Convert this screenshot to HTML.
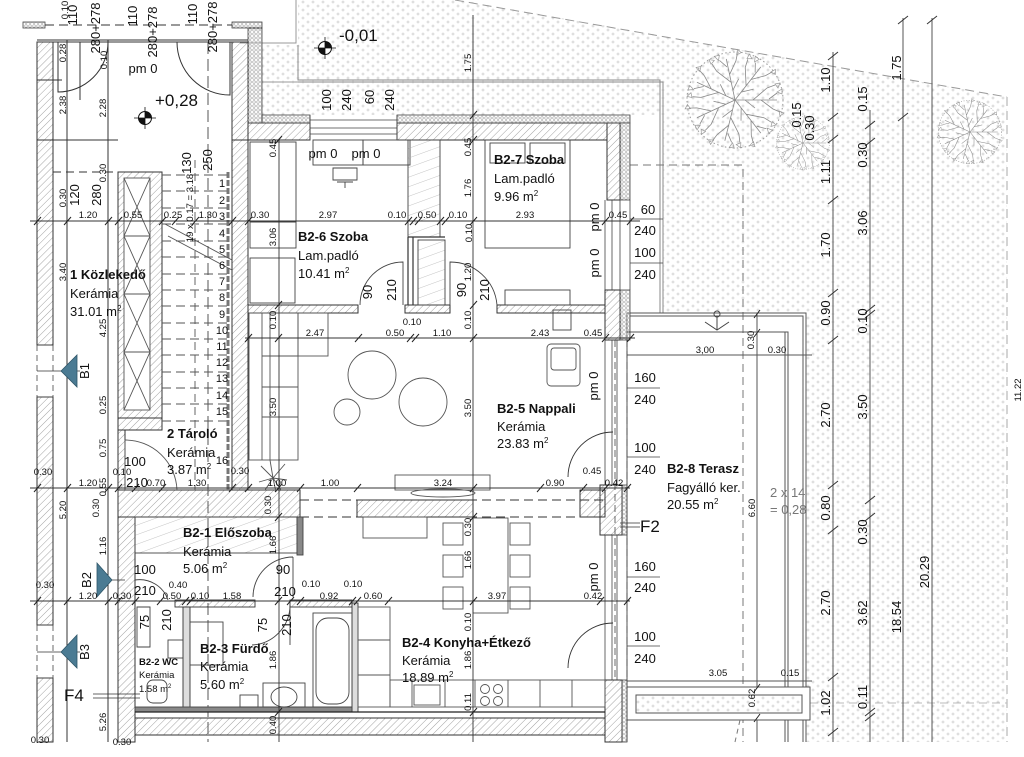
<!DOCTYPE html>
<html><head><meta charset="utf-8">
<style>
html,body{margin:0;padding:0;background:#fff;width:1024px;height:757px;overflow:hidden}
svg{display:block}
text{font-family:"Liberation Sans",Arial,sans-serif;fill:#111}
.d{font-size:9.5px}
.n{font-size:13px}
.b{font-size:13px;font-weight:bold}
.m{font-size:13px}
.st{font-size:11px;fill:#666}
.sm{font-size:9.5px}
.sb{font-size:9.5px;font-weight:bold}
.g{font-size:13px;fill:#777}
.big{font-size:17px}
</style></head>
<body>
<svg width="1024" height="757" viewBox="0 0 1024 757" xmlns="http://www.w3.org/2000/svg">
<defs>
<pattern id="h" width="5" height="5" patternUnits="userSpaceOnUse" patternTransform="rotate(45)"><line x1="0" y1="0" x2="0" y2="5" stroke="#8a8a8a" stroke-width="0.8"/></pattern>
<pattern id="h2" width="9" height="9" patternUnits="userSpaceOnUse" patternTransform="rotate(70)"><line x1="0" y1="0" x2="0" y2="9" stroke="#aaa" stroke-width="0.7"/></pattern>
<pattern id="dt" width="10" height="8" patternUnits="userSpaceOnUse"><path d="M1.5,2h3M3,0.5v3M6.5,6h3M8,4.5v3" stroke="#c9c9c9" stroke-width="0.7"/></pattern>
<pattern id="ins" width="4" height="4" patternUnits="userSpaceOnUse"><circle cx="2" cy="2" r="1.3" fill="none" stroke="#9a9a9a" stroke-width="0.6"/></pattern>
<g id="br"><path d="M0,0 L42,0 M18,0 L32,-12 M26,0 L38,9 M32,-12 l8,-3 M38,9 l7,3 M10,0 L20,8 M34,-1 l8,-6" fill="none" stroke="#888" stroke-width="0.8"/><path d="M40,-16 l5,-1 l-2,5z M44,11 l5,2 l-4,3z M42,-8 l5,-3 l0,5z" fill="none" stroke="#999" stroke-width="0.7"/></g>
<g id="tree"><circle r="48" fill="none" stroke="#999" stroke-dasharray="1.5 2.5"/><use href="#br"/><use href="#br" transform="rotate(52)"/><use href="#br" transform="rotate(104)"/><use href="#br" transform="rotate(155)"/><use href="#br" transform="rotate(205)"/><use href="#br" transform="rotate(258)"/><use href="#br" transform="rotate(308)"/></g>
<g id="lvl"><circle r="6.5" fill="#fff" stroke="#111" stroke-width="1"/><path d="M0,0 L0,-6.5 A6.5,6.5 0 0 1 6.5,0 Z M0,0 L0,6.5 A6.5,6.5 0 0 1 -6.5,0 Z" fill="#111"/><path d="M-11,0 H11 M0,-11 V11" stroke="#111" stroke-width="0.8"/></g>
</defs>
<rect width="1024" height="757" fill="#fff"/>

<!-- ground dotted -->
<path d="M262,45 L298,45 L298,0 L460,0 L1007,97 L1007,742 L806,742 L806,313 L663,313 L663,115 L262,115 Z" fill="url(#dt)"/>
<path d="M455,0 L1007,97" stroke="#999" stroke-width="1" stroke-dasharray="9 5" fill="none"/>
<line x1="1007" y1="97" x2="1007" y2="742" stroke="#aaa" stroke-dasharray="9 5"/>
<path d="M240,43 H296 V0" fill="none" stroke="#999"/>
<path d="M298,45 V80 H660 V313 M298,82 H663 V313" fill="none" stroke="#888"/>
<line x1="262" y1="82" x2="298" y2="82" stroke="#999"/>
<path d="M630,165 H743 V742" fill="none" stroke="#777" stroke-dasharray="8 5"/>
<line x1="810" y1="703" x2="1007" y2="703" stroke="#bbb" stroke-dasharray="8 5"/>

<!-- trees -->
<use href="#tree" transform="translate(735,100)"/>
<use href="#tree" transform="translate(803,143) scale(0.55)"/>
<use href="#tree" transform="translate(970,132) scale(0.66)"/>

<!-- right dimension lines -->
<g stroke="#555" stroke-width="1">
<line x1="833" y1="52" x2="833" y2="742"/>
<line x1="870" y1="110" x2="870" y2="742"/>
<line x1="903" y1="18" x2="903" y2="742"/>
<line x1="932" y1="18" x2="932" y2="742"/>
</g>
<g stroke="#333" stroke-width="1">
<path d="M828,60 l10,-8 M828,121 l10,-8 M828,143 l10,-8 M828,204 l10,-8 M828,297 l10,-8 M828,344 l10,-8 M828,489 l10,-8 M828,534 l10,-8 M828,681 l10,-8 M828,736 l10,-8"/>
<path d="M865,129 l10,-8 M865,146 l10,-8 M865,313 l10,-8 M865,318 l10,-8 M865,504 l10,-8 M865,521 l10,-8 M865,716 l10,-8 M865,721 l10,-8"/>
<path d="M898,24 l10,-8 M898,121 l10,-8 M927,24 l10,-8"/>
</g>

<!-- terrace -->
<g stroke="#555" stroke-width="1" fill="none">
<path d="M627,742 V313 H806 V742"/>
<path d="M630,316 H803 V742"/>
<path d="M627,332 H788 V742"/>
<path d="M785,332 V742"/>
<line x1="757" y1="313" x2="757" y2="742"/>
<line x1="627" y1="355" x2="812" y2="355"/>
<rect x="627" y="687" width="183" height="33" fill="#fff"/>
<rect x="636" y="695" width="166" height="18" fill="url(#dt)"/>
<line x1="627" y1="681" x2="812" y2="681"/>
</g>
<g stroke="#444" fill="none" stroke-width="1"><circle cx="717" cy="314" r="3"/><path d="M717,317 V330 M705,322 L717,330 L729,322"/></g>
<path d="M740,720 L735,742" stroke="#777" stroke-dasharray="5 4"/>

<!-- ===== BUILDING WALLS ===== -->
<g fill="url(#h)" stroke="#333" stroke-width="1">
<rect x="37" y="42" width="16" height="303"/>
<rect x="37" y="397" width="16" height="228"/>
<rect x="37" y="678" width="16" height="64"/>
<rect x="232" y="42" width="16" height="98"/>
<rect x="232" y="140" width="16" height="350"/>
<rect x="248" y="123" width="62" height="17"/>
<rect x="397" y="123" width="210" height="17"/>
<rect x="607" y="123" width="13" height="77"/>
<rect x="605" y="290" width="15" height="50"/>
<rect x="600" y="485" width="22" height="50"/>
<rect x="605" y="680" width="17" height="62"/>
<rect x="118" y="172" width="44" height="246"/>
<rect x="118" y="418" width="44" height="12"/>
<rect x="118" y="430" width="7" height="60"/>
<rect x="248" y="305" width="110" height="8"/>
<rect x="405" y="305" width="45" height="8"/>
<rect x="497" y="305" width="108" height="8"/>
<rect x="118" y="490" width="182" height="27"/>
<rect x="357" y="500" width="116" height="17"/>
<rect x="580" y="490" width="25" height="27"/>
<rect x="118" y="517" width="17" height="225"/>
<rect x="135" y="718" width="470" height="17"/>
</g>
<!-- insulation -->
<g fill="url(#ins)" stroke="#444" stroke-width="0.8">
<rect x="23" y="22" width="22" height="6"/>
<rect x="232" y="22" width="30" height="6"/>
<rect x="248" y="28" width="14" height="95"/>
<rect x="262" y="115" width="48" height="8"/>
<rect x="397" y="115" width="233" height="8"/>
<rect x="620" y="123" width="10" height="77"/>
<rect x="620" y="290" width="10" height="50"/>
<rect x="622" y="485" width="5" height="50"/>
<rect x="622" y="680" width="5" height="62"/>
</g>
<!-- windows -->
<g stroke="#444" stroke-width="0.8" fill="none">
<path d="M310,115 V140 M397,115 V140 M310,120 H397 M310,128 H397 M310,134 H397"/>
<path d="M605,200 V290 M612,200 V290 M620,200 V290 M630,200 V290"/>
<path d="M605,340 V485 M612,340 V485 M617,340 V485"/>
<path d="M605,535 V680 M612,535 V680 M617,535 V680"/>
<path d="M627,340 V680 M615,340 V680" stroke-dasharray="7 4"/>
<path d="M37,345 H53 M37,397 H53 M37,625 H53 M37,678 H53"/>
<path d="M37,345 V397 M53,345 V397 M37,625 V678 M53,625 V678" stroke-dasharray="6 4"/>
<path d="M630,219 H663 M630,263 H663 M627,388 H660 M627,457 H660 M627,577 H660 M627,646 H660"/>
</g>

<!-- top entrance lines -->
<g stroke="#333" stroke-width="1" fill="none">
<path d="M37,40 H248 M37,42 H248"/>
<path d="M45,25 H232" stroke-dasharray="9 5"/>
<path d="M37,140 H118"/>
<path d="M53,172 H118" stroke-dasharray="8 5"/>
<line x1="67" y1="40" x2="67" y2="742"/>
<line x1="108" y1="40" x2="108" y2="742"/>
<line x1="80" y1="42" x2="80" y2="100"/>
<line x1="208" y1="42" x2="208" y2="742" stroke-dasharray="12 5" stroke="#555"/>
<path d="M58,42 V92 A50,50 0 0 0 108,42"/>
<path d="M230,42 V95 A53,53 0 0 1 177,42"/>
<path d="M37,80 H62" />
</g>
<use href="#lvl" transform="translate(145,118)"/>
<use href="#lvl" transform="translate(325,48)"/>

<!-- stair -->
<g stroke="#555" stroke-width="0.9" fill="none">
<rect x="124" y="178" width="26" height="232" fill="#fff"/>
<path d="M124,178 L150,236 M150,178 L124,236 M124,236 L150,294 M150,236 L124,294 M124,294 L150,352 M150,294 L124,352 M124,352 L150,410 M150,352 L124,410 M124,236 H150 M124,294 H150 M124,352 H150"/>
<path d="M162,175 H228 M162,191 H228 M162,208 H228 M162,224 H228 M162,241 H228 M162,257 H228 M162,274 H228 M162,290 H228 M162,306 H228 M162,323 H228 M162,339 H228 M162,355 H228 M162,372 H228 M162,388 H228 M162,404 H228 M162,421 H228" stroke-dasharray="9 5"/>
<line x1="195" y1="160" x2="195" y2="490" stroke-dasharray="8 5"/>
<line x1="228" y1="172" x2="228" y2="490" stroke="#777" stroke-width="3" stroke-dasharray="6 2"/>
<path d="M165,224 L232,260 M168,236 L232,270"/>
<path d="M125,440 A52,52 0 0 1 177,490"/>
<line x1="125" y1="440" x2="125" y2="490"/>
</g>

<!-- upper rooms interior -->
<g stroke="#444" stroke-width="0.9" fill="none">
<rect x="313" y="140" width="50" height="25"/>
<rect x="363" y="140" width="47" height="25"/>
<path d="M333,168 h24 v12 h-24z M337,182 h16 M345,182 v6"/>
<rect x="250" y="142" width="46" height="80"/>
<rect x="250" y="222" width="46" height="26"/>
<rect x="250" y="258" width="45" height="45"/>
<rect x="408" y="140" width="32" height="97" fill="url(#h2)"/>
<rect x="418" y="240" width="27" height="65" fill="url(#h2)"/>
<path d="M408,237 V305 M413,237 V305 M408,237 H445" stroke="#333" stroke-width="1.2"/>
<rect x="485" y="140" width="85" height="108"/>
<rect x="490" y="143" width="35" height="20"/>
<rect x="530" y="143" width="35" height="20"/>
<rect x="505" y="290" width="65" height="15"/>
<rect x="553" y="310" width="18" height="20"/>
<path d="M403,305 V262 A43,43 0 0 0 360,305"/>
<path d="M450,305 V262 A47,47 0 0 1 497,305"/>
</g>

<!-- Nappali furniture -->
<g stroke="#555" stroke-width="0.9" fill="none">
<rect x="249" y="313" width="49" height="147"/>
<path d="M262,313 V460 M270,313 V460 M262,356 H298 M262,387 H298 M262,417 H298"/>
<rect x="298" y="313" width="30" height="43"/>
<circle cx="372" cy="375" r="24"/>
<circle cx="423" cy="402" r="24"/>
<circle cx="347" cy="412" r="13"/>
<rect x="547" y="344" width="33" height="42" rx="4"/>
<rect x="551" y="348" width="25" height="22" rx="3"/>
<rect x="395" y="475" width="95" height="15"/>
<ellipse cx="443" cy="493" rx="32" ry="4"/>
<path d="M273,478 l-12,-12 M273,478 l12,-14 M273,478 l-3,-18 M273,478 l14,2 M273,478 l-14,4 M273,478 l-8,12 M273,478 l8,12 M273,478 l3,14"/>
</g>
<g stroke="#333" stroke-width="0.9" fill="none">
<path d="M300,500 H605 M300,517 H605" stroke-dasharray="9 5"/>
<path d="M568,477 A45,45 0 0 1 613,432"/>
<path d="M568,668 A45,45 0 0 1 613,623"/>
</g>

<!-- Előszoba/WC/Fürdő -->
<g stroke="#444" stroke-width="0.9" fill="none">
<rect x="135" y="517" width="162" height="36" fill="url(#h2)"/>
<rect x="297" y="517" width="6" height="38" fill="#888"/>
<path d="M293,557 A40,40 0 0 0 253,597 M293,557 V597"/>
<path d="M290,605 A40,40 0 0 1 252,645 M290,605 V645"/>
<path d="M137,607 h13 v40 h-13z"/>
<path d="M135,580 A30,30 0 0 1 168,600"/>
<rect x="175" y="600" width="80" height="7" fill="url(#h)" stroke="#333"/>
<rect x="290" y="600" width="62" height="7" fill="url(#h)" stroke="#333"/>
<rect x="183" y="607" width="7" height="105" fill="#ddd" stroke="#333"/>
<rect x="352" y="603" width="6" height="109" fill="#ddd" stroke="#333"/>
<rect x="135" y="707" width="217" height="5" fill="#888"/>
<line x1="135" y1="712" x2="605" y2="712" stroke="#222" stroke-width="1.2"/>
<rect x="147" y="680" width="20" height="23" rx="6"/>
<rect x="168" y="640" width="15" height="18"/>
<rect x="190" y="622" width="33" height="43"/>
<rect x="240" y="695" width="18" height="12"/>
<rect x="263" y="683" width="42" height="24"/>
<ellipse cx="284" cy="697" rx="13" ry="10"/>
<rect x="313" y="613" width="39" height="94"/>
<rect x="316" y="618" width="33" height="86" rx="12"/>
</g>

<!-- kitchen -->
<g stroke="#555" stroke-width="0.9" fill="none">
<rect x="363" y="517" width="64" height="21"/>
<rect x="473" y="518" width="35" height="95"/>
<rect x="443" y="523" width="20" height="22"/><rect x="443" y="555" width="20" height="22"/><rect x="443" y="587" width="20" height="22"/>
<rect x="510" y="523" width="20" height="22"/><rect x="510" y="555" width="20" height="22"/><rect x="510" y="587" width="20" height="22"/>
<rect x="358" y="607" width="32" height="100"/>
<path d="M358,640 H390 M358,675 H390"/>
<rect x="390" y="680" width="215" height="27"/>
<path d="M412,680 V707 M445,680 V707 M475,680 V707 M508,680 V707 M540,680 V707 M572,680 V707"/>
<rect x="414" y="685" width="26" height="20"/>
<circle cx="485" cy="689" r="4.5"/><circle cx="498" cy="689" r="4.5"/><circle cx="485" cy="701" r="4.5"/><circle cx="498" cy="701" r="4.5"/>
</g>

<!-- dimension lines -->
<g stroke="#333" stroke-width="0.9">
<line x1="30" y1="221" x2="640" y2="221"/>
<line x1="245" y1="338" x2="635" y2="338"/>
<line x1="30" y1="488" x2="630" y2="488"/>
<line x1="30" y1="601" x2="630" y2="601"/>
<line x1="279" y1="140" x2="279" y2="742"/>
<line x1="473" y1="15" x2="473" y2="742"/>
</g>
<g stroke="#222" stroke-width="1">
<path d="M34,225 l7,-8 M64,225 l7,-8 M105,225 l7,-8 M115,225 l7,-8 M159,225 l7,-8 M172,225 l7,-8 M192,225 l7,-8 M229,225 l7,-8 M245,225 l7,-8 M405,225 l7,-8 M410,225 l7,-8 M415,225 l7,-8 M437,225 l7,-8 M442,225 l7,-8 M470,225 l7,-8 M602,225 l7,-8 M627,225 l7,-8"/>
<path d="M245,342 l7,-8 M275,342 l7,-8 M355,342 l7,-8 M407,342 l7,-8 M412,342 l7,-8 M470,342 l7,-8 M602,342 l7,-8 M627,342 l7,-8"/>
<path d="M34,492 l7,-8 M64,492 l7,-8 M105,492 l7,-8 M115,492 l7,-8 M132,492 l7,-8 M159,492 l7,-8 M229,492 l7,-8 M245,492 l7,-8 M297,492 l7,-8 M354,492 l7,-8 M470,492 l7,-8 M537,492 l7,-8 M580,492 l7,-8 M602,492 l7,-8 M624,492 l7,-8"/>
<path d="M34,605 l7,-8 M64,605 l7,-8 M105,605 l7,-8 M115,605 l7,-8 M132,605 l7,-8 M157,605 l7,-8 M182,605 l7,-8 M187,605 l7,-8 M287,605 l7,-8 M297,605 l7,-8 M349,605 l7,-8 M354,605 l7,-8 M385,605 l7,-8 M470,605 l7,-8 M597,605 l7,-8 M624,605 l7,-8"/>
<path d="M275,144 l7,-8 M275,309 l7,-8 M275,492 l7,-8 M275,521 l7,-8 M275,605 l7,-8 M275,716 l7,-8 M470,119 l7,-8 M470,144 l7,-8 M470,309 l7,-8 M470,521 l7,-8 M470,716 l7,-8"/>
<path d="M754,318 l6,-8 M754,337 l6,-8 M754,692 l6,-8 M754,722 l6,-8"/>
</g>

<!-- section markers -->
<g stroke="#333" stroke-width="0.8">
<line x1="37" y1="371" x2="80" y2="371"/>
<line x1="37" y1="652" x2="80" y2="652"/>
<line x1="108" y1="580" x2="125" y2="580"/>
<line x1="93" y1="694" x2="140" y2="694"/><line x1="93" y1="698" x2="140" y2="698"/>
<line x1="620" y1="523" x2="640" y2="523"/><line x1="620" y1="527" x2="640" y2="527"/>
</g>
<g fill="#4b7b93" stroke="#2e5568" stroke-width="0.8">
<polygon points="61,371 77,355 77,387"/>
<polygon points="61,652 77,635 77,668"/>
<polygon points="112,580 97,563 97,597"/>
</g>

<!-- ===== TEXT ===== -->
<g class="n" text-anchor="middle">
<text x="73" y="15" dy="4" transform="rotate(-90 73 15)">110</text>
<text x="96" y="28" dy="4" transform="rotate(-90 96 28)">280+278</text>
<text x="133" y="16" dy="4" transform="rotate(-90 133 16)">110</text>
<text x="153" y="32" dy="4" transform="rotate(-90 153 32)">280+278</text>
<text x="193" y="14" dy="4" transform="rotate(-90 193 14)">110</text>
<text x="213" y="27" dy="4" transform="rotate(-90 213 27)">280+278</text>
<text x="75" y="195" dy="4" transform="rotate(-90 75 195)">120</text>
<text x="97" y="195" dy="4" transform="rotate(-90 97 195)">280</text>
<text x="187" y="163" dy="4" transform="rotate(-90 187 163)">130</text>
<text x="208" y="160" dy="4" transform="rotate(-90 208 160)">250</text>
<text x="327" y="100" dy="4" transform="rotate(-90 327 100)">100</text>
<text x="347" y="100" dy="4" transform="rotate(-90 347 100)">240</text>
<text x="370" y="97" dy="4" transform="rotate(-90 370 97)">60</text>
<text x="390" y="100" dy="4" transform="rotate(-90 390 100)">240</text>
<text x="368" y="292" dy="4" transform="rotate(-90 368 292)">90</text>
<text x="392" y="290" dy="4" transform="rotate(-90 392 290)">210</text>
<text x="462" y="290" dy="4" transform="rotate(-90 462 290)">90</text>
<text x="485" y="290" dy="4" transform="rotate(-90 485 290)">210</text>
<text x="145" y="622" dy="4" transform="rotate(-90 145 622)">75</text>
<text x="167" y="620" dy="4" transform="rotate(-90 167 620)">210</text>
<text x="263" y="625" dy="4" transform="rotate(-90 263 625)">75</text>
<text x="287" y="625" dy="4" transform="rotate(-90 287 625)">210</text>
<text x="595" y="217" dy="4" transform="rotate(-90 595 217)">pm 0</text>
<text x="595" y="263" dy="4" transform="rotate(-90 595 263)">pm 0</text>
<text x="594" y="386" dy="4" transform="rotate(-90 594 386)">pm 0</text>
<text x="594" y="577" dy="4" transform="rotate(-90 594 577)">pm 0</text>
<text x="85" y="371" dy="4" transform="rotate(-90 85 371)">B1</text>
<text x="87" y="580" dy="4" transform="rotate(-90 87 580)">B2</text>
<text x="85" y="652" dy="4" transform="rotate(-90 85 652)">B3</text>
<text x="826" y="80" dy="4" transform="rotate(-90 826 80)">1.10</text>
<text x="826" y="172" dy="4" transform="rotate(-90 826 172)">1.11</text>
<text x="826" y="245" dy="4" transform="rotate(-90 826 245)">1.70</text>
<text x="826" y="313" dy="4" transform="rotate(-90 826 313)">0.90</text>
<text x="826" y="415" dy="4" transform="rotate(-90 826 415)">2.70</text>
<text x="826" y="508" dy="4" transform="rotate(-90 826 508)">0.80</text>
<text x="826" y="603" dy="4" transform="rotate(-90 826 603)">2.70</text>
<text x="826" y="703" dy="4" transform="rotate(-90 826 703)">1.02</text>
<text x="863" y="99" dy="4" transform="rotate(-90 863 99)">0.15</text>
<text x="863" y="155" dy="4" transform="rotate(-90 863 155)">0.30</text>
<text x="863" y="223" dy="4" transform="rotate(-90 863 223)">3.06</text>
<text x="863" y="321" dy="4" transform="rotate(-90 863 321)">0.10</text>
<text x="863" y="407" dy="4" transform="rotate(-90 863 407)">3.50</text>
<text x="863" y="532" dy="4" transform="rotate(-90 863 532)">0.30</text>
<text x="863" y="613" dy="4" transform="rotate(-90 863 613)">3.62</text>
<text x="863" y="697" dy="4" transform="rotate(-90 863 697)">0.11</text>
<text x="897" y="68" dy="4" transform="rotate(-90 897 68)">1.75</text>
<text x="897" y="617" dy="4" transform="rotate(-90 897 617)">18.54</text>
<text x="925" y="572" dy="4" transform="rotate(-90 925 572)">20.29</text>
<text x="797" y="115" dy="4" transform="rotate(-90 797 115)">0.15</text>
<text x="810" y="128" dy="4" transform="rotate(-90 810 128)">0.30</text>
</g>

<g class="d" text-anchor="middle">
<text x="65" y="10" dy="3" transform="rotate(-90 65 10)">0.10</text>
<text x="63" y="53" dy="3" transform="rotate(-90 63 53)">0.28</text>
<text x="104" y="60" dy="3" transform="rotate(-90 104 60)">0.10</text>
<text x="63" y="105" dy="3" transform="rotate(-90 63 105)">2.38</text>
<text x="103" y="108" dy="3" transform="rotate(-90 103 108)">2.28</text>
<text x="63" y="198" dy="3" transform="rotate(-90 63 198)">0.30</text>
<text x="103" y="173" dy="3" transform="rotate(-90 103 173)">0.30</text>
<text x="190" y="208" dy="3" transform="rotate(-90 190 208)">19 x 0.17 = 3.18</text>
<text x="63" y="272" dy="3" transform="rotate(-90 63 272)">3.40</text>
<text x="103" y="328" dy="3" transform="rotate(-90 103 328)">4.25</text>
<text x="103" y="405" dy="3" transform="rotate(-90 103 405)">0.25</text>
<text x="103" y="448" dy="3" transform="rotate(-90 103 448)">0.75</text>
<text x="103" y="487" dy="3" transform="rotate(-90 103 487)">0.55</text>
<text x="63" y="510" dy="3" transform="rotate(-90 63 510)">5.20</text>
<text x="96" y="508" dy="3" transform="rotate(-90 96 508)">0.30</text>
<text x="103" y="546" dy="3" transform="rotate(-90 103 546)">1.16</text>
<text x="103" y="722" dy="3" transform="rotate(-90 103 722)">5.26</text>
<text x="273" y="148" dy="3" transform="rotate(-90 273 148)">0.45</text>
<text x="273" y="237" dy="3" transform="rotate(-90 273 237)">3.06</text>
<text x="273" y="320" dy="3" transform="rotate(-90 273 320)">0.10</text>
<text x="273" y="407" dy="3" transform="rotate(-90 273 407)">3.50</text>
<text x="268" y="505" dy="3" transform="rotate(-90 268 505)">0.30</text>
<text x="273" y="545" dy="3" transform="rotate(-90 273 545)">1.66</text>
<text x="273" y="660" dy="3" transform="rotate(-90 273 660)">1.86</text>
<text x="273" y="725" dy="3" transform="rotate(-90 273 725)">0.40</text>
<text x="468" y="63" dy="3" transform="rotate(-90 468 63)">1.75</text>
<text x="468" y="147" dy="3" transform="rotate(-90 468 147)">0.45</text>
<text x="468" y="188" dy="3" transform="rotate(-90 468 188)">1.76</text>
<text x="469" y="233" dy="3" transform="rotate(-90 469 233)">0.10</text>
<text x="468" y="272" dy="3" transform="rotate(-90 468 272)">1.20</text>
<text x="468" y="320" dy="3" transform="rotate(-90 468 320)">0.10</text>
<text x="468" y="408" dy="3" transform="rotate(-90 468 408)">3.50</text>
<text x="468" y="527" dy="3" transform="rotate(-90 468 527)">0.30</text>
<text x="468" y="560" dy="3" transform="rotate(-90 468 560)">1.66</text>
<text x="468" y="622" dy="3" transform="rotate(-90 468 622)">0.10</text>
<text x="468" y="660" dy="3" transform="rotate(-90 468 660)">1.86</text>
<text x="468" y="702" dy="3" transform="rotate(-90 468 702)">0.11</text>
<text x="751" y="340" dy="3" transform="rotate(-90 751 340)">0.30</text>
<text x="752" y="508" dy="3" transform="rotate(-90 752 508)">6.60</text>
<text x="752" y="698" dy="3" transform="rotate(-90 752 698)">0.62</text>
<text x="1018" y="390" dy="3" transform="rotate(-90 1018 390)">11.22</text>
</g>

<g class="d" text-anchor="middle">
<text x="88" y="218">1.20</text><text x="133" y="218">0.55</text><text x="173" y="218">0.25</text><text x="208" y="218">1.30</text>
<text x="260" y="218">0.30</text><text x="328" y="218">2.97</text><text x="397" y="218">0.10</text><text x="427" y="218">0.50</text><text x="458" y="218">0.10</text><text x="525" y="218">2.93</text><text x="618" y="218">0.45</text>
<text x="315" y="336">2.47</text><text x="412" y="325">0.10</text><text x="395" y="336">0.50</text><text x="442" y="336">1.10</text><text x="540" y="336">2.43</text><text x="593" y="336">0.45</text>
<text x="43" y="475">0.30</text><text x="122" y="475">0.10</text><text x="240" y="474">0.30</text>
<text x="88" y="486">1.20</text><text x="156" y="486">0.70</text><text x="197" y="486">1.30</text><text x="277" y="486">1.00</text><text x="330" y="486">1.00</text><text x="443" y="486">3.24</text><text x="555" y="486">0.90</text><text x="592" y="474">0.45</text><text x="614" y="486">0.42</text>
<text x="45" y="588">0.30</text><text x="88" y="599">1.20</text><text x="122" y="599">0.30</text><text x="178" y="588">0.40</text><text x="172" y="599">0.50</text><text x="200" y="599">0.10</text><text x="232" y="599">1.58</text>
<text x="311" y="587">0.10</text><text x="353" y="587">0.10</text><text x="329" y="599">0.92</text><text x="373" y="599">0.60</text><text x="497" y="599">3.97</text><text x="593" y="599">0.42</text>
<text x="705" y="353">3,00</text><text x="777" y="353">0.30</text><text x="718" y="676">3.05</text><text x="790" y="676">0.15</text>
<text x="40" y="743">0.30</text><text x="122" y="745">0.30</text>
</g>

<g class="st" text-anchor="middle">
<text x="222" y="187">1</text><text x="222" y="204">2</text><text x="222" y="220">3</text><text x="222" y="237">4</text><text x="222" y="253">5</text><text x="222" y="269">6</text><text x="222" y="285">7</text><text x="222" y="301">8</text><text x="222" y="318">9</text><text x="222" y="334">10</text><text x="222" y="350">11</text><text x="222" y="366">12</text><text x="222" y="382">13</text><text x="222" y="399">14</text><text x="222" y="415">15</text><text x="222" y="464">16</text>
</g>

<g class="n" text-anchor="middle">
<text x="143" y="73">pm 0</text>
<text x="323" y="158">pm 0</text><text x="366" y="158">pm 0</text>
<text x="648" y="214">60</text><text x="645" y="235">240</text><text x="645" y="257">100</text><text x="645" y="279">240</text>
<text x="645" y="382">160</text><text x="645" y="404">240</text><text x="645" y="452">100</text><text x="645" y="474">240</text>
<text x="645" y="571">160</text><text x="645" y="592">240</text><text x="645" y="641">100</text><text x="645" y="663">240</text>
<text x="135" y="466">100</text><text x="137" y="487">210</text>
<text x="145" y="574">100</text><text x="145" y="595">210</text>
<text x="283" y="574">90</text><text x="285" y="596">210</text>
</g>
<text class="big" x="155" y="106">+0,28</text>
<text class="big" x="339" y="41">-0,01</text>
<text class="big" x="64" y="701">F4</text>
<text class="big" x="640" y="532">F2</text>
<text class="g" x="770" y="497">2 x 14</text>
<text class="g" x="770" y="514">= 0,28</text>

<g>
<text class="b" x="494" y="164">B2-7 Szoba</text><text class="m" x="494" y="183">Lam.padló</text><text class="m" x="494" y="201">9.96 m<tspan font-size="8" dy="-5">2</tspan></text>
<text class="b" x="298" y="241">B2-6 Szoba</text><text class="m" x="298" y="260">Lam.padló</text><text class="m" x="298" y="278">10.41 m<tspan font-size="8" dy="-5">2</tspan></text>
<text class="b" x="70" y="279">1 Közlekedő</text><text class="m" x="70" y="298">Kerámia</text><text class="m" x="70" y="316">31.01 m<tspan font-size="8" dy="-5">2</tspan></text>
<text class="b" x="167" y="438">2 Tároló</text><text class="m" x="167" y="457">Kerámia</text><text class="m" x="167" y="474">3.87 m<tspan font-size="8" dy="-5">2</tspan></text>
<text class="b" x="497" y="413">B2-5 Nappali</text><text class="m" x="497" y="431">Kerámia</text><text class="m" x="497" y="448">23.83 m<tspan font-size="8" dy="-5">2</tspan></text>
<text class="b" x="667" y="473">B2-8 Terasz</text><text class="m" x="667" y="492">Fagyálló ker.</text><text class="m" x="667" y="509">20.55 m<tspan font-size="8" dy="-5">2</tspan></text>
<text class="b" x="183" y="537">B2-1 Előszoba</text><text class="m" x="183" y="556">Kerámia</text><text class="m" x="183" y="573">5.06 m<tspan font-size="8" dy="-5">2</tspan></text>
<text class="b" x="200" y="653">B2-3 Fürdő</text><text class="m" x="200" y="671">Kerámia</text><text class="m" x="200" y="689">5.60 m<tspan font-size="8" dy="-5">2</tspan></text>
<text class="sb" x="139" y="665">B2-2 WC</text><text class="sm" x="139" y="678">Kerámia</text><text class="sm" x="139" y="692">1.58 m<tspan font-size="6" dy="-4">2</tspan></text>
<text class="b" x="402" y="647">B2-4 Konyha+Étkező</text><text class="m" x="402" y="665">Kerámia</text><text class="m" x="402" y="682">18.89 m<tspan font-size="8" dy="-5">2</tspan></text>
</g>
</svg>
</body></html>
